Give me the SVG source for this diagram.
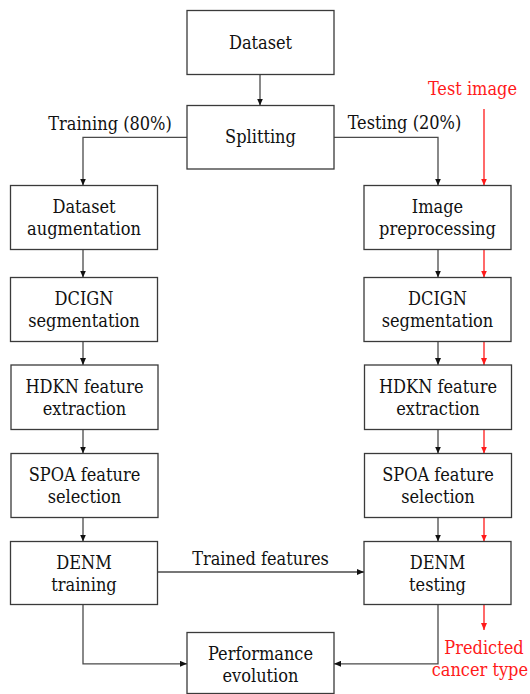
<svg xmlns="http://www.w3.org/2000/svg" width="530" height="694" viewBox="0 0 530 694" font-family="DejaVu Serif Condensed, DejaVu Serif, serif">
<style>
.box{fill:#fff;stroke:#3a3a3a;stroke-width:1.3}
.t{font-size:18px;fill:#111;text-anchor:middle}
.r{font-size:18px;fill:#ff1a1a;text-anchor:middle}
.c{fill:none;stroke:#4a4a4a;stroke-width:1.3}
.cr{fill:none;stroke:#ff1a1a;stroke-width:1.3}
</style>
<defs>
<marker id="ab" markerWidth="7" markerHeight="6" refX="7" refY="3" orient="auto" markerUnits="userSpaceOnUse"><path d="M0,0 L7,3 L0,6 Z" fill="#111"/></marker>
<marker id="ar" markerWidth="7" markerHeight="6" refX="7" refY="3" orient="auto" markerUnits="userSpaceOnUse"><path d="M0,0 L7,3 L0,6 Z" fill="#ff1a1a"/></marker>
</defs>
<rect width="530" height="694" fill="#fff"/>
<g id="connectors">
<path class="c" d="M260,74.5 V105.5" marker-end="url(#ab)"/>
<path class="c" d="M187,137.3 H83 V185.5" marker-end="url(#ab)"/>
<path class="c" d="M334,137.3 H438 V185.5" marker-end="url(#ab)"/>
<path class="c" d="M83,249.5 V277.5" marker-end="url(#ab)"/>
<path class="c" d="M83,341.5 V365" marker-end="url(#ab)"/>
<path class="c" d="M83,429.5 V453.5" marker-end="url(#ab)"/>
<path class="c" d="M83,517.5 V541.5" marker-end="url(#ab)"/>
<path class="c" d="M438,249.5 V277.5" marker-end="url(#ab)"/>
<path class="c" d="M438,341.5 V365" marker-end="url(#ab)"/>
<path class="c" d="M438,429.5 V453.5" marker-end="url(#ab)"/>
<path class="c" d="M438,517.5 V541.5" marker-end="url(#ab)"/>
<path class="c" d="M157.5,572 H364" marker-end="url(#ab)"/>
<path class="c" d="M83,604.5 V663.8 H187" marker-end="url(#ab)"/>
<path class="c" d="M438,604.5 V663.8 H334" marker-end="url(#ab)"/>
<path class="cr" d="M484,109 V185.5" marker-end="url(#ar)"/>
<path class="cr" d="M484,249.5 V277.5" marker-end="url(#ar)"/>
<path class="cr" d="M484,341.5 V365" marker-end="url(#ar)"/>
<path class="cr" d="M484,429.5 V453.5" marker-end="url(#ar)"/>
<path class="cr" d="M484,517.5 V541.5" marker-end="url(#ar)"/>
<path class="cr" d="M484,604.5 V630" marker-end="url(#ar)"/>
<text class="t" x="110" y="130">Training (80%)</text>
<text class="t" x="404.5" y="129">Testing (20%)</text>
<text class="t" x="260.5" y="565">Trained features</text>
<text class="r" x="472.5" y="95">Test image</text>
<text class="r" x="484" y="653.7">Predicted</text>
<text class="r" x="528" y="675.6" style="text-anchor:end">cancer type</text>
</g>
<g id="dataset"><rect class="box" x="187" y="10.5" width="147" height="64"/><text class="t" x="260.5" y="48.8">Dataset</text></g>
<g id="splitting"><rect class="box" x="187" y="105.5" width="147" height="63.5"/><text class="t" x="260.5" y="143.3">Splitting</text></g>
<g id="augmentation"><rect class="box" x="10.5" y="185.5" width="147" height="64"/><text class="t" x="84" y="213.2">Dataset</text><text class="t" x="84" y="235.2">augmentation</text></g>
<g id="dcign-train"><rect class="box" x="10.5" y="277.5" width="147" height="64"/><text class="t" x="84" y="305.2">DCIGN</text><text class="t" x="84" y="327.2">segmentation</text></g>
<g id="hdkn-train"><rect class="box" x="11" y="365" width="147" height="64.5"/><text class="t" x="84.5" y="393">HDKN feature</text><text class="t" x="84.5" y="415">extraction</text></g>
<g id="spoa-train"><rect class="box" x="11" y="453.5" width="147" height="64"/><text class="t" x="84.5" y="481.2">SPOA feature</text><text class="t" x="84.5" y="503.2">selection</text></g>
<g id="denm-train"><rect class="box" x="10.5" y="541.5" width="147" height="63"/><text class="t" x="84" y="569">DENM</text><text class="t" x="84" y="591">training</text></g>
<g id="preprocessing"><rect class="box" x="364" y="185.5" width="147" height="64"/><text class="t" x="437.5" y="213.2">Image</text><text class="t" x="437.5" y="235.2">preprocessing</text></g>
<g id="dcign-test"><rect class="box" x="364" y="277.5" width="147" height="64"/><text class="t" x="437.5" y="305.2">DCIGN</text><text class="t" x="437.5" y="327.2">segmentation</text></g>
<g id="hdkn-test"><rect class="box" x="364.5" y="365" width="147" height="64.5"/><text class="t" x="438" y="393">HDKN feature</text><text class="t" x="438" y="415">extraction</text></g>
<g id="spoa-test"><rect class="box" x="364.5" y="453.5" width="147" height="64"/><text class="t" x="438" y="481.2">SPOA feature</text><text class="t" x="438" y="503.2">selection</text></g>
<g id="denm-test"><rect class="box" x="364" y="541.5" width="147" height="63"/><text class="t" x="437.5" y="569">DENM</text><text class="t" x="437.5" y="591">testing</text></g>
<g id="performance"><rect class="box" x="187" y="632.5" width="147" height="61"/><text class="t" x="260.5" y="660">Performance</text><text class="t" x="260.5" y="682">evolution</text></g>
</svg>
